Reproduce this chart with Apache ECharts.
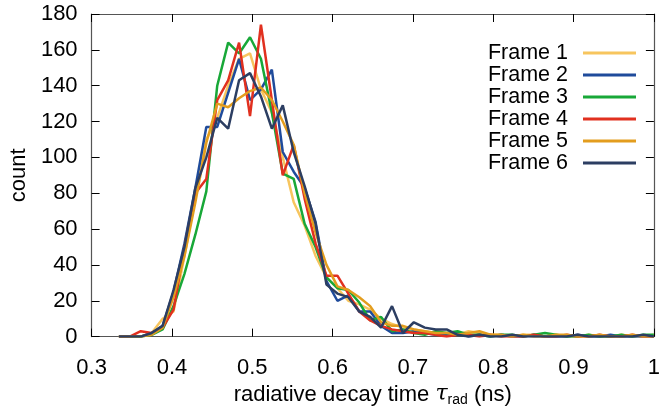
<!DOCTYPE html>
<html>
<head>
<meta charset="utf-8">
<script src="https://cdn.jsdelivr.net/npm/echarts@6/dist/echarts.min.js"></script>
<style>
html,body{margin:0;padding:0;background:#fff;}
#c{width:663px;height:412px;}
</style>
</head>
<body>
<div id="c"></div>
<script>
// bin positions (ns)
var tauBins = [0.334,0.3476,0.3612,0.3748,0.3884,0.402,0.4156,0.4292,0.4428,0.4564,
  0.47,0.4836,0.4972,0.5108,0.5244,0.538,0.5516,0.5652,0.5788,0.5924,
  0.606,0.6196,0.6332,0.6468,0.6604,0.674,0.6876,0.7012,0.7148,0.7284,
  0.742,0.7556,0.7692,0.7828,0.7964,0.81,0.8236,0.8372,0.8508,0.8644,
  0.878,0.8916,0.9052,0.9188,0.9324,0.946,0.9596,0.9732,0.9868,1.0];

var frame1 = [0,0,0,2,10,14,45,78,110,122,140,155,158,138,125,100,75,62,45,33,27,20,18,15,10,7,5,4,3,2,2,1,3,2,1,1,0,1,1,0,1,0,0,1,0,0,1,0,0,1];
var frame2 = [0,0,0,2,6,25,52,83,117,117,136,155,132,138,149,103,92,83,64,31,20,23,14,14,6,2,2,3,2,1,1,2,0,1,0,1,0,0,1,0,0,0,1,0,0,1,0,0,0,0];
var frame3 = [0,0,0,1,4,17,35,57,81,140,164,158,167,155,125,91,88,63,50,33,27,26,19,9,11,3,4,2,1,3,2,3,1,1,0,1,1,0,1,2,1,0,0,1,0,0,1,0,1,1];
var frame4 = [0,0,3,2,5,15,50,80,88,132,143,164,123,174,132,90,107,77,52,34,34,24,14,9,6,4,3,2,2,1,0,1,1,0,1,0,0,0,1,0,0,1,0,0,1,0,0,1,0,0];
var frame5 = [0,0,0,1,5,22,45,75,108,130,128,133,137,139,132,120,107,80,58,40,28,26,22,17,8,6,6,4,3,2,2,1,2,3,1,1,0,1,0,0,1,1,0,0,1,0,0,1,0,0];
var frame6 = [0,0,0,2,6,26,50,83,100,122,116,143,147,134,116,129,103,84,63,29,24,22,14,11,5,17,2,8,5,4,4,1,0,1,0,0,1,0,0,0,0,0,1,0,0,0,0,0,1,0];

var seriesNames = ['Frame 1','Frame 2','Frame 3','Frame 4','Frame 5','Frame 6'];
var seriesValues = [frame1, frame2, frame3, frame4, frame5, frame6];
var seriesColors = ['#F7C55E','#1F4B9B','#18A838','#E1301F','#E39D1E','#2C3E62'];

var xTicks = {min:0.3, max:1.0, interval:0.1};
var yTicks = {min:0, max:180, interval:20};

var FONT = 'Liberation Sans';

var series = seriesNames.map(function(n, k){
  return {
    name: n, type: 'line',
    data: tauBins.map(function(x, i){ return [x, seriesValues[k][i]]; }),
    showSymbol: false, symbol: 'none',
    lineStyle: {width: 2.5, color: seriesColors[k]},
    itemStyle: {color: seriesColors[k]},
    clip: true, z: 2 + k
  };
});

var axisLineStyle = {color: '#555', width: 1.2};
var tickStyle = {color: '#000', width: 1};

var chart = echarts.init(document.getElementById('c'), null, {renderer: 'canvas'});
chart.setOption({
  animation: false,
  backgroundColor: '#fff',
  grid: {left: 88, right: 4, top: 14, bottom: 71},
  legend: {
    orient: 'vertical', right: 22, top: 37, align: 'right',
    icon: 'rect', itemWidth: 53, itemHeight: 3, itemGap: 0,
    textStyle: {fontFamily: FONT, fontSize: 21.5, color: '#000', lineHeight: 20.8, padding: [0, 10, 0, 0]},
    data: seriesNames
  },
  xAxis: [{
    type: 'value', min: xTicks.min, max: xTicks.max, interval: xTicks.interval,
    axisLine: {onZero: false, lineStyle: axisLineStyle},
    axisTick: {inside: true, length: 8, lineStyle: tickStyle},
    splitLine: {show: false},
    axisLabel: {fontFamily: FONT, fontSize: 22, color: '#000', margin: 20,
      formatter: function(v){ return Math.abs(v-1) < 1e-9 ? '1' : v.toFixed(1); }},
    name: '{a|radiative decay time }{t|τ}{s|rad}{a| (ns)}',
    nameLocation: 'middle', nameGap: 45,
    nameTextStyle: {fontFamily: FONT, fontSize: 22, color: '#000',
      rich: {
        a: {fontFamily: FONT, fontSize: 22, color: '#000'},
        t: {fontFamily: 'DejaVu Serif', fontStyle: 'italic', fontSize: 22, color: '#000'},
        s: {fontFamily: FONT, fontSize: 14, color: '#000', verticalAlign: 'top', padding: [11, 0, 0, 0]}
      }}
  }, {
    type: 'value', position: 'top', min: xTicks.min, max: xTicks.max, interval: xTicks.interval,
    axisLine: {onZero: false, lineStyle: axisLineStyle},
    axisTick: {inside: true, length: 8, lineStyle: tickStyle},
    axisLabel: {show: false}, splitLine: {show: false}
  }],
  yAxis: [{
    type: 'value', min: yTicks.min, max: yTicks.max, interval: yTicks.interval,
    axisLine: {show: true, onZero: false, lineStyle: axisLineStyle},
    axisTick: {show: true, inside: true, length: 8, lineStyle: tickStyle},
    splitLine: {show: false},
    axisLabel: {fontFamily: FONT, fontSize: 22, color: '#000', margin: 14},
    name: 'count', nameLocation: 'middle', nameGap: 56,
    nameTextStyle: {fontFamily: FONT, fontSize: 22, color: '#000'}
  }, {
    type: 'value', position: 'right', min: yTicks.min, max: yTicks.max, interval: yTicks.interval,
    axisLine: {show: true, onZero: false, lineStyle: axisLineStyle},
    axisTick: {show: true, inside: true, length: 8, lineStyle: tickStyle},
    axisLabel: {show: false}, splitLine: {show: false}
  }],
  series: series
});
</script>
</body>
</html>
